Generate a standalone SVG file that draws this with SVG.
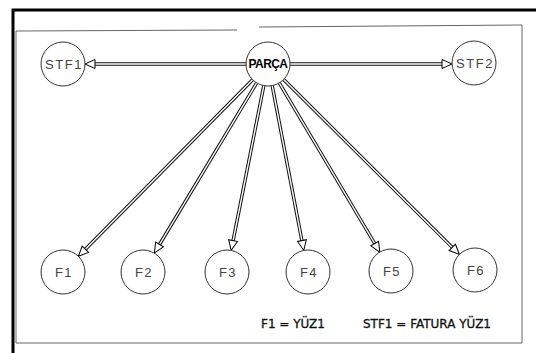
<svg xmlns="http://www.w3.org/2000/svg" width="536" height="353" viewBox="0 0 536 353">
<defs>
<style>
.frame{fill:none;stroke:#000;stroke-width:3}
.inner{fill:none;stroke:#666;stroke-width:1}
.node circle{fill:#fff;stroke:#333;stroke-width:1}
.node text{font-family:"Liberation Sans",Arial,sans-serif;font-size:13px;fill:#444;text-anchor:middle;letter-spacing:1.5px}
.node text.main{font-weight:bold;fill:#000;font-size:12px;letter-spacing:-0.6px}
.sh{fill:none;stroke:#111;stroke-width:3.4}
.si{fill:none;stroke:#fff;stroke-width:1.4;marker-end:url(#ah)}
.legend{font-family:"DejaVu Sans",Verdana,sans-serif;font-size:12px;fill:#111;stroke:#111;stroke-width:0.3}
</style>
<marker id="ah" markerUnits="userSpaceOnUse" markerWidth="14" markerHeight="12" refX="1" refY="6" orient="auto" viewBox="0 0 14 12">
<path d="M1,1.5 L11,6 L1,10.5 Z" fill="#fff" stroke="#000" stroke-width="1"/>
</marker>
</defs>
<rect width="536" height="353" fill="#fff"/>
<g id="frame">
<path class="frame" d="M13,353 V10 H536"/>
<path class="inner" d="M16,343 V31 L237,30 M259,27 L522,25 V343 H16"/>
</g>
<g id="connectors">
<path class="sh" d="M246,64 H95"/><path class="si" d="M246,64 H95"/>
<path class="sh" d="M290,64 H442"/><path class="si" d="M290,64 H442"/>
<path class="sh" d="M252.6,79.7 L85.4,249.2"/><path class="si" d="M252.6,79.7 L85.4,249.2"/>
<path class="sh" d="M256.7,82.9 L159.5,244.5"/><path class="si" d="M256.7,82.9 L159.5,244.5"/>
<path class="sh" d="M263.8,85.6 L233.1,240.6"/><path class="si" d="M263.8,85.6 L233.1,240.6"/>
<path class="sh" d="M272.2,85.6 L301.9,240.6"/><path class="si" d="M272.2,85.6 L301.9,240.6"/>
<path class="sh" d="M279.2,82.9 L374.7,243.5"/><path class="si" d="M279.2,82.9 L374.7,243.5"/>
<path class="sh" d="M283.6,79.5 L452.3,247.4"/><path class="si" d="M283.6,79.5 L452.3,247.4"/>
</g>
<g id="parca" class="node"><circle cx="268" cy="64" r="22"/><text class="main" x="268" y="68">PARÇA</text></g>
<g id="stf1" class="node"><circle cx="63" cy="64" r="22"/><text x="64" y="69">STF1</text></g>
<g id="stf2" class="node"><circle cx="474" cy="63" r="22"/><text x="475" y="68">STF2</text></g>
<g id="f1" class="node"><circle cx="63" cy="272" r="22"/><text x="64" y="277">F1</text></g>
<g id="f2" class="node"><circle cx="143" cy="272" r="22"/><text x="144" y="277">F2</text></g>
<g id="f3" class="node"><circle cx="227" cy="272" r="22"/><text x="228" y="277">F3</text></g>
<g id="f4" class="node"><circle cx="308" cy="272" r="22"/><text x="309" y="277">F4</text></g>
<g id="f5" class="node"><circle cx="391" cy="271" r="22"/><text x="392" y="276">F5</text></g>
<g id="f6" class="node"><circle cx="475" cy="270" r="22"/><text x="476" y="275">F6</text></g>
<g id="legend">
<text class="legend" x="261" y="328">F1 = YÜZ1</text>
<text class="legend" x="363" y="328">STF1 = FATURA YÜZ1</text>
</g>
</svg>
